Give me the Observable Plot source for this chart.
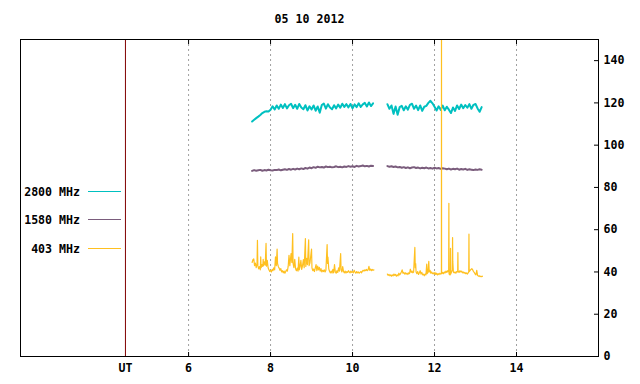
<!DOCTYPE html>
<html><head><meta charset="utf-8">
<script src="https://cdn.jsdelivr.net/npm/d3@7"></script>
<script src="https://cdn.jsdelivr.net/npm/@observablehq/plot@0.6"></script>
<style>body{margin:0;background:#fff}svg{display:block}</style>
</head><body><div id="chart"></div><script>
const title = "05 10 2012";
const xTickValues = [4.46, 6, 8, 10, 12, 14];
const xTickLabels = ["UT", "6", "8", "10", "12", "14"];
const gridTicks = [6, 8, 10, 12, 14];
const utPosition = 4.46;
const yTicks = [0, 20, 40, 60, 80, 100, 120, 140];
const seriesNames = ["2800 MHz", "1580 MHz", "403 MHz"];
const seriesColors = ["#00c0c0", "#7a5c7c", "#ffc020"];

// sample times (UT hours) for the 2800 / 1580 MHz records
const seg1Start = 7.55, seg2Start = 10.85, step = 0.05;

const f2800a = [111.2,112.0,112.8,113.5,114.3,115.2,115.8,116.0,115.9,116.8,
118.4,116.9,118.8,117.2,119.2,117.6,119.4,117.4,118.9,119.6,
117.5,119.1,117.2,119.5,117.8,117.0,118.9,116.4,118.4,116.9,
118.8,116.3,118.3,115.4,119.0,119.7,117.3,119.4,117.8,117.0,
118.9,117.4,119.2,117.7,119.6,118.1,119.4,117.9,119.5,117.4,
119.3,118.0,119.8,118.1,119.3,120.0,118.3,120.2,118.5,119.8];
const f2800b = [119.4,117.2,118.8,114.8,118.3,114.4,118.0,118.6,116.5,118.4,
116.8,119.1,119.6,117.2,118.7,116.6,118.8,116.2,118.2,118.6,
120.0,121.0,119.8,118.2,116.4,118.4,116.7,118.7,116.5,118.2,
116.8,115.2,117.8,116.2,118.8,117.1,119.2,117.5,119.0,117.7,
119.4,117.2,119.1,119.5,117.4,115.8,118.0];

const f1580a = [87.8,88.2,87.9,88.1,88.3,87.9,88.2,88.0,88.4,88.1,
88.0,88.3,88.2,88.5,88.1,88.4,88.6,88.3,88.7,88.4,
88.8,88.5,88.9,88.6,89.0,88.7,89.2,88.9,89.4,89.1,
89.6,89.3,89.8,89.5,89.7,89.4,89.9,89.6,89.8,89.5,
89.7,90.0,89.6,89.8,89.5,89.9,89.7,90.1,89.8,90.0,
89.7,90.2,89.9,90.1,90.4,90.0,90.2,89.9,90.3,90.1];
const f1580b = [90.1,89.8,90.0,89.7,89.9,89.5,89.7,89.3,89.6,89.2,
89.5,89.1,89.4,89.6,89.2,89.4,89.0,89.3,89.1,89.4,
89.0,89.2,88.9,89.3,89.0,89.2,88.8,89.1,88.9,88.6,
88.9,88.5,88.8,88.6,88.9,88.4,88.7,88.5,88.8,88.3,
88.6,88.4,88.2,88.5,88.3,88.6,88.4];

// 403 MHz: [UT hour, flux]
const f403a = [[7.55,44.5],[7.57,45.8],[7.59,46.2],[7.61,43.0],[7.63,44.2],[7.65,42.0],[7.67,44.0],[7.68,55.0],[7.69,43.0],[7.71,41.5],[7.73,42.5],[7.75,41.0],[7.76,47.1],[7.77,42.0],[7.79,43.5],[7.81,42.6],[7.82,46.0],[7.83,43.0],[7.85,44.8],[7.87,43.2],[7.89,53.5],[7.90,42.8],[7.92,45.5],[7.94,42.0],[7.96,41.0],[7.98,40.2],[8.00,40.8],[8.02,40.0],[8.04,41.2],[8.06,40.6],[8.08,42.0],[8.10,41.0],[8.12,47.1],[8.14,43.0],[8.16,50.8],[8.17,44.0],[8.19,42.5],[8.21,41.8],[8.23,40.8],[8.25,41.6],[8.27,40.0],[8.29,40.6],[8.31,39.6],[8.33,40.4],[8.35,39.4],[8.37,40.2],[8.39,41.0],[8.41,40.4],[8.43,42.6],[8.45,47.9],[8.47,43.0],[8.50,48.7],[8.52,44.5],[8.54,58.2],[8.55,44.0],[8.57,42.0],[8.59,46.0],[8.61,41.5],[8.63,40.6],[8.65,41.8],[8.67,40.4],[8.69,47.0],[8.70,41.0],[8.72,42.5],[8.74,45.5],[8.76,41.2],[8.78,43.0],[8.80,45.8],[8.82,42.0],[8.85,55.8],[8.86,42.6],[8.88,46.5],[8.90,43.5],[8.93,55.2],[8.94,43.0],[8.96,44.2],[9.00,50.8],[9.01,42.0],[9.03,40.6],[9.05,41.4],[9.07,40.2],[9.09,41.8],[9.11,43.5],[9.13,40.6],[9.15,42.8],[9.17,41.0],[9.19,42.2],[9.21,40.4],[9.23,41.6],[9.25,40.0],[9.27,40.8],[9.29,40.2],[9.31,41.0],[9.33,40.0],[9.35,40.8],[9.38,53.0],[9.39,44.0],[9.40,47.0],[9.42,41.5],[9.44,40.2],[9.46,39.6],[9.48,40.4],[9.50,39.5],[9.52,41.2],[9.54,39.6],[9.56,43.5],[9.58,40.0],[9.60,39.4],[9.62,40.6],[9.64,39.8],[9.66,42.0],[9.68,40.4],[9.71,48.7],[9.72,41.0],[9.74,40.0],[9.76,42.5],[9.78,40.2],[9.80,39.6],[9.82,40.4],[9.84,39.5],[9.86,40.2],[9.88,39.8],[9.90,40.6],[9.92,40.0],[9.94,39.6],[9.96,40.4],[9.98,39.8],[10.00,40.2],[10.02,39.6],[10.04,40.8],[10.06,40.0],[10.08,39.4],[10.10,40.2],[10.12,39.6],[10.14,40.0],[10.16,39.4],[10.18,39.8],[10.20,40.2],[10.22,39.6],[10.24,40.4],[10.26,40.8],[10.28,40.4],[10.30,41.0],[10.32,40.6],[10.34,41.2],[10.36,40.6],[10.38,41.0],[10.40,42.7],[10.42,40.8],[10.44,41.4],[10.46,40.6],[10.48,41.2],[10.50,40.8],[10.52,41.0]];
const f403b = [[10.85,39.0],[10.87,38.4],[10.89,38.8],[10.91,38.2],[10.93,38.6],[10.95,38.0],[10.97,38.6],[10.99,38.2],[11.01,39.0],[11.03,38.4],[11.05,38.8],[11.07,38.0],[11.09,38.6],[11.11,38.2],[11.13,39.4],[11.15,38.6],[11.17,39.2],[11.19,40.0],[11.21,41.0],[11.23,39.4],[11.25,39.8],[11.27,39.0],[11.29,39.6],[11.31,39.0],[11.33,39.4],[11.35,38.8],[11.37,39.6],[11.39,39.2],[11.41,41.3],[11.43,39.8],[11.45,40.4],[11.47,39.6],[11.49,40.0],[11.52,51.6],[11.53,42.0],[11.54,44.0],[11.55,40.0],[11.57,39.2],[11.59,40.2],[11.61,38.8],[11.63,39.6],[11.65,40.6],[11.67,39.0],[11.69,39.8],[11.71,38.6],[11.73,39.0],[11.75,38.2],[11.77,39.0],[11.79,38.6],[11.81,43.7],[11.82,39.2],[11.84,39.8],[11.86,45.0],[11.87,40.0],[11.89,40.8],[11.91,39.4],[11.93,40.0],[11.95,39.2],[11.97,39.6],[11.99,39.0],[12.01,39.8],[12.03,38.8],[12.05,39.4],[12.07,38.6],[12.09,39.2],[12.11,38.8],[12.13,39.4],[12.15,39.0],[12.168,39.2],[12.17,160],[12.172,39.2],[12.18,39.2],[12.20,39.8],[12.22,39.2],[12.24,40.0],[12.26,39.6],[12.28,40.4],[12.30,39.8],[12.32,40.6],[12.345,40.0],[12.35,72.5],[12.355,39.0],[12.38,38.6],[12.385,40.0],[12.39,51.2],[12.395,39.0],[12.42,40.2],[12.435,41.0],[12.44,56.3],[12.445,45.0],[12.46,40.0],[12.48,39.6],[12.50,40.0],[12.52,39.4],[12.54,40.2],[12.565,40.0],[12.57,49.2],[12.575,40.4],[12.60,39.8],[12.62,40.6],[12.64,40.0],[12.66,40.4],[12.68,39.6],[12.70,40.0],[12.72,39.4],[12.74,39.8],[12.76,39.2],[12.78,39.6],[12.80,39.0],[12.82,39.6],[12.835,40.0],[12.84,57.9],[12.845,40.2],[12.87,40.8],[12.89,41.2],[12.91,41.6],[12.93,41.0],[12.95,40.2],[12.97,39.8],[12.99,39.0],[13.01,38.6],[13.03,40.8],[13.05,38.4],[13.07,38.0],[13.09,38.2],[13.11,37.8],[13.13,38.0],[13.15,37.8],[13.17,38.0]];

// build tables
function regular(vals, t0, seg) { return vals.map((v, i) => ({t: +(t0 + i * step).toFixed(3), v, seg})); }
const d2800 = [...regular(f2800a, seg1Start, "a"), ...regular(f2800b, seg2Start, "b")];
const d1580 = [...regular(f1580a, seg1Start, "a"), ...regular(f1580b, seg2Start, "b")];
const d403 = [...f403a.map(([t, v]) => ({t, v, seg: "a"})), ...f403b.map(([t, v]) => ({t, v, seg: "b"}))];

const font = "DejaVu Sans Mono";
const plot = Plot.plot({
  width: 640, height: 384,
  marginLeft: 20, marginRight: 42, marginTop: 39, marginBottom: 28,
  style: {fontFamily: font, fontSize: "11.6px", fontWeight: "bold", background: "#fff", color: "#000", overflow: "visible"},
  x: {domain: [1.9, 16.0], axis: null, label: null},
  y: {domain: [0, 150], axis: null, label: null},
  marks: [
    Plot.ruleX(gridTicks, {stroke: "#a0a0a0", strokeDasharray: "2,3", strokeWidth: 1}),
    Plot.ruleX([utPosition], {stroke: "#800000", strokeWidth: 1}),
    Plot.line(d2800, {x: "t", y: "v", z: "seg", stroke: seriesColors[0], strokeWidth: 2, clip: true}),
    Plot.line(d1580, {x: "t", y: "v", z: "seg", stroke: seriesColors[1], strokeWidth: 2, clip: true}),
    Plot.line(d403, {x: "t", y: "v", z: "seg", stroke: seriesColors[2], strokeWidth: 1.2, clip: true}),
    Plot.frame({stroke: "#000"}),
    Plot.axisY({anchor: "right", label: null, ticks: yTicks, tickSize: 5, dx: -5, tickFormat: () => "", stroke: "#000"}),
    Plot.axisY({anchor: "right", label: null, ticks: yTicks, tickSize: 0, tickPadding: 5, fill: "#000"}),
    Plot.axisX({anchor: "top", label: null, ticks: gridTicks, tickSize: 4, dy: 4, tickFormat: () => "", stroke: "#000"}),
    Plot.axisX({anchor: "bottom", label: null, ticks: gridTicks, tickSize: 4, dy: -4, tickFormat: () => "", stroke: "#000"}),
    Plot.axisX({anchor: "bottom", label: null, ticks: xTickValues, tickSize: 0, tickPadding: 7, tickFormat: (d, i) => xTickLabels[i], fill: "#000"}),
    Plot.text([title], {frameAnchor: "top", dy: -20, lineAnchor: "middle", fill: "#000"})
  ]
});
document.getElementById("chart").appendChild(plot);

// legend (key) inside the frame, left side
const svg = d3.select(plot);
const key = svg.append("g").attr("font-family", font).attr("font-size", "11.6px").attr("font-weight", "bold");
const rowY = [191.5, 219.5, 248.5];
seriesNames.forEach((name, i) => {
  key.append("text").attr("x", 80).attr("y", rowY[i]).attr("dy", "0.35em").attr("text-anchor", "end").attr("fill", "#000").text(name);
  key.append("line").attr("x1", 88).attr("x2", 121).attr("y1", rowY[i]).attr("y2", rowY[i]).attr("stroke", seriesColors[i]).attr("stroke-width", 1);
});
</script></body></html>
